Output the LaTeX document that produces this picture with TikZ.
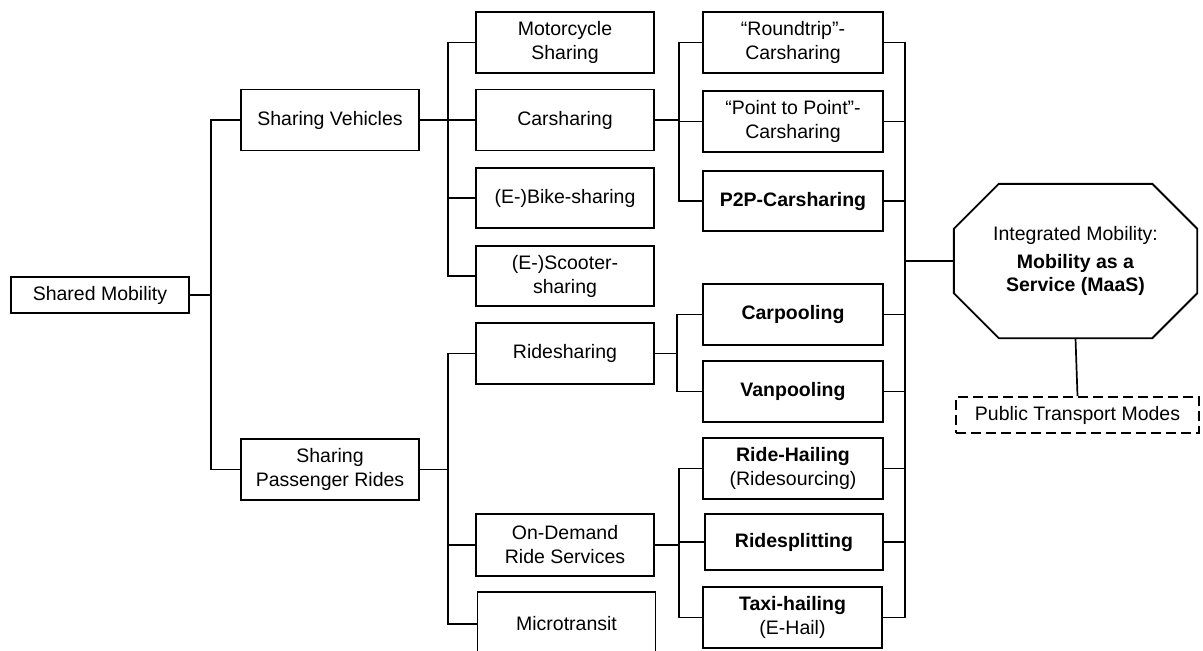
\documentclass[tikz,border=0pt]{standalone}
\usepackage{fontspec}
\setmainfont{Liberation Sans}
\begin{document}
\begin{tikzpicture}[x=1pt,y=-1pt,
  box/.style={draw, line width=1.9pt, align=center, inner sep=0pt,
    font=\fontsize{19.5}{24}\selectfont, minimum width=178pt, minimum height=61pt},
  wbox/.style={box, minimum width=180pt},
  conn/.style={line width=1.7pt, line join=miter}]
\useasboundingbox (0,0) rectangle (1203,651);
\clip (0,0) rectangle (1203,651);

% level 0 and 1
\node[box, minimum height=36pt] (sm) at (100,295) {Shared Mobility};
\node[box] (sv) at (330,120) {Sharing Vehicles};
\node[box] (spr) at (330,469.5) {Sharing\\Passenger Rides};

% level 2
\node[box] (mc) at (565,42.5) {Motorcycle\\Sharing};
\node[box] (cs) at (565,120) {Carsharing};
\node[box, minimum height=60pt] (eb) at (565,198) {(E-)Bike-sharing};
\node[box, minimum height=60pt] (es) at (565,276) {(E-)Scooter-\\sharing};
\node[box] (rs) at (565,353.5) {Ridesharing};
\node[box, minimum height=62pt] (od) at (565,545) {On-Demand\\Ride Services};
\node[box, minimum height=64pt] (mt) at (566.5,624) {Microtransit};

% level 3
\node[wbox] (rt) at (793,42.5) {“Roundtrip”-\\Carsharing};
\node[wbox] (pp) at (793,121.5) {“Point to Point”-\\Carsharing};
\node[wbox, minimum height=60pt] (p2p) at (793,201) {\textbf{P2P-Carsharing}};
\node[wbox] (cp) at (793,314.5) {\textbf{Carpooling}};
\node[wbox] (vp) at (793,391.5) {\textbf{Vanpooling}};
\node[wbox] (rh) at (793,468.5) {\textbf{Ride-Hailing}\\(Ridesourcing)};
\node[box, minimum height=56pt] (rsp) at (794,542) {\textbf{Ridesplitting}};
\node[box, minimum width=179pt] (th) at (792.5,617.5) {\textbf{Taxi-hailing}\\(E-Hail)};

% MaaS octagon
\node[minimum width=243pt, minimum height=154pt, inner sep=0pt, align=center,
  font=\fontsize{19.5}{23}\selectfont] (oct) at (1075.5,261)
  {Integrated Mobility:\\[5pt]\textbf{Mobility as a}\\\textbf{Service (MaaS)}};
\draw[line width=1.9pt, line join=miter]
  ([xshift=45pt]oct.north west) -- ([xshift=-45pt]oct.north east)
  -- ([yshift=-45pt]oct.north east) -- ([yshift=45pt]oct.south east)
  -- ([xshift=-45pt]oct.south east) -- ([xshift=45pt]oct.south west)
  -- ([yshift=45pt]oct.south west) -- ([yshift=-45pt]oct.north west) -- cycle;

\node[box, dashed, dash pattern=on 10pt off 5pt, minimum width=243pt, minimum height=36pt]
  (ptm) at (1077.5,415) {Public Transport Modes};

% bus coordinates
\coordinate (b1) at (211,0);
\coordinate (b2) at (448,0);
\coordinate (b3) at (679,0);
\coordinate (b4) at (677,0);
\coordinate (b5) at (905,0);

% connectors
\draw[conn] (sm.east) -- (sm.east -| b1);
\draw[conn] (sv.west) -- (sv.west -| b1) -- (spr.west -| b1) -- (spr.west);

\draw[conn] (sv.east) -- (sv.east -| b2);
\draw[conn] (mc.west) -- (mc.west -| b2) -- (es.west -| b2) -- (es.west);
\draw[conn] (cs.west) -- (cs.west -| b2);
\draw[conn] (eb.west) -- (eb.west -| b2);

\draw[conn] (spr.east) -- (spr.east -| b2);
\draw[conn] (rs.west) -- (rs.west -| b2) -- (mt.west -| b2) -- (mt.west);
\draw[conn] (od.west) -- (od.west -| b2);

\draw[conn] (cs.east) -- (cs.east -| b3);
\draw[conn] (rt.west) -- (rt.west -| b3) -- (p2p.west -| b3) -- (p2p.west);
\draw[conn] (pp.west) -- (pp.west -| b3);

\draw[conn] (rs.east) -- (rs.east -| b4);
\draw[conn] (cp.west) -- (cp.west -| b4) -- (vp.west -| b4) -- (vp.west);

\draw[conn] (od.east) -- (od.east -| b3);
\draw[conn] (rh.west) -- (rh.west -| b3) -- (th.west -| b3) -- (th.west);
\draw[conn] (rsp.west) -- (rsp.west -| b3);

\draw[conn] (rt.east) -- (rt.east -| b5) -- (th.east -| b5) -- (th.east);
\foreach \n in {pp,p2p,cp,vp,rh,rsp}
  \draw[conn] (\n.east) -- (\n.east -| b5);
\draw[conn] (oct.west) -- (oct.west -| b5);
\draw[conn] (oct.south) -- (ptm.north);
\end{tikzpicture}
\end{document}
